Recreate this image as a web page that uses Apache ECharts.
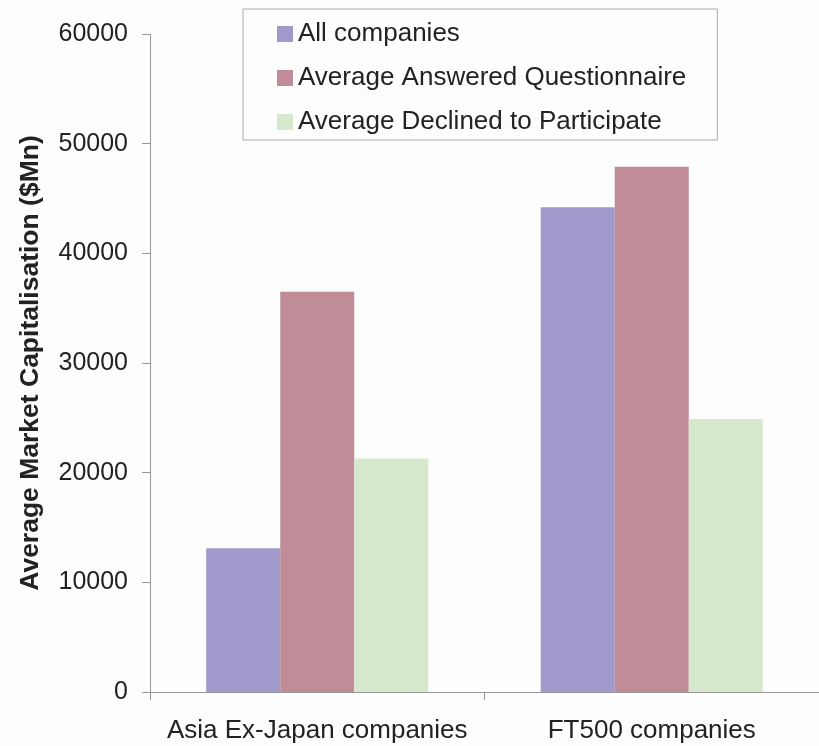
<!DOCTYPE html>
<html>
<head>
<meta charset="utf-8">
<script src="https://cdn.jsdelivr.net/npm/echarts@6/dist/echarts.min.js"></script>
<style>
html,body{margin:0;padding:0;background:#fdfdfd;}
#chart{width:819px;height:746px;}
</style>
</head>
<body>
<div id="chart"></div>
<script>
var categories = ['Asia Ex-Japan companies', 'FT500 companies'];
var seriesNames = ['All companies', 'Average Answered Questionnaire', 'Average Declined to Participate'];
var allCompanies = [13100, 44200];
var answered = [36500, 47900];
var declined = [21300, 24900];
var yTicks = [0, 10000, 20000, 30000, 40000, 50000, 60000];
var colors = ['#a099cb', '#bf8c98', '#d7e9cc'];

var chart = echarts.init(document.getElementById('chart'), null, {renderer: 'canvas'});
var font = 'Liberation Sans, Arial, Helvetica, sans-serif';
chart.setOption({
  backgroundColor: '#fdfdfd',
  animation: false,
  grid: {left: 150, top: 34, width: 670, height: 658, containLabel: false},
  legend: {
    orient: 'vertical',
    left: 243, top: 9,
    padding: [10, 31, 3, 34],
    itemWidth: 16, itemHeight: 16, itemGap: 14,
    borderColor: '#aaaaaa', borderWidth: 1,
    backgroundColor: '#fdfdfd',
    icon: 'rect',
    textStyle: {fontFamily: font, fontSize: 26, color: '#222', lineHeight: 30},
    data: seriesNames
  },
  xAxis: {
    type: 'category',
    data: categories,
    axisLine: {lineStyle: {color: '#999', width: 1}},
    axisTick: {show: true, length: 8, lineStyle: {color: '#999'}},
    axisLabel: {fontFamily: font, fontSize: 26, color: '#222', margin: 26, interval: 0}
  },
  yAxis: {
    type: 'value',
    min: yTicks[0], max: yTicks[yTicks.length - 1], interval: 10000,
    name: 'Average Market Capitalisation ($Mn)',
    nameLocation: 'middle',
    nameGap: 106,
    nameTextStyle: {fontFamily: font, fontSize: 26.5, fontWeight: 'bold', color: '#222'},
    axisLine: {show: true, lineStyle: {color: '#999', width: 1}},
    axisTick: {show: true, length: 8, lineStyle: {color: '#999'}},
    splitLine: {show: false},
    axisLabel: {fontFamily: font, fontSize: 25, color: '#222', margin: 22, formatter: function (v) { return String(v); }}
  },
  series: [
    {name: seriesNames[0], type: 'bar', data: allCompanies, barGap: '0%', barCategoryGap: '33.6%', itemStyle: {color: colors[0]}},
    {name: seriesNames[1], type: 'bar', data: answered, barGap: '0%', barCategoryGap: '33.6%', itemStyle: {color: colors[1]}},
    {name: seriesNames[2], type: 'bar', data: declined, barGap: '0%', barCategoryGap: '33.6%', itemStyle: {color: colors[2]}}
  ]
});
</script>
</body>
</html>
